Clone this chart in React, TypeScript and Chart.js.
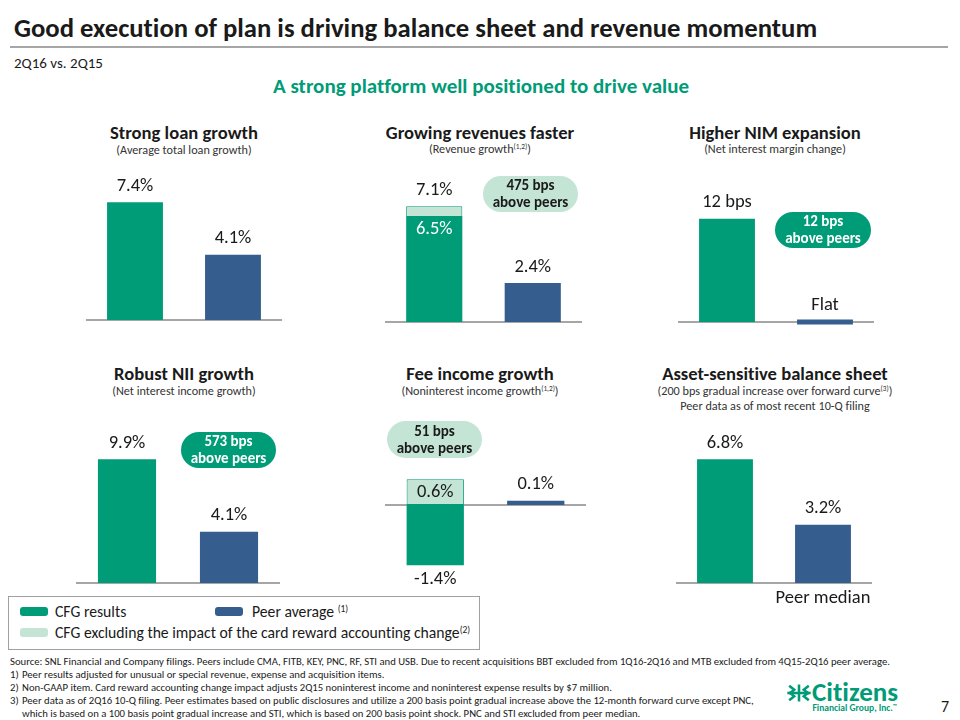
import React, { useEffect, useRef } from 'react';
import { Chart, registerables } from 'chart.js';

Chart.register(...registerables);

// ---------------- Data ----------------
const groupCategories = ['CFG', 'Peers'];

const loanGrowth = [7.4, 4.1];
const loanLabels = ['7.4%', '4.1%'];

const revenueGrowth = [6.5, 2.4];
const revenueGrowthExCard = [7.1, null];
const revenueLabels = ['6.5%', '2.4%'];
const revenueExCardLabels = ['7.1%', ''];

const nimChangeBps = [12, 0];
const nimLabels = ['12 bps', 'Flat'];

const niiGrowth = [9.9, 4.1];
const niiLabels = ['9.9%', '4.1%'];

const feeGrowth = [-1.4, 0.1];
const feeGrowthExCard = [0.6, null];
const feeLabels = ['-1.4%', '0.1%'];
const feeExCardLabels = ['0.6%', ''];

const rateSensitivity = [6.8, 3.2];
const rateLabels = ['6.8%', '3.2%'];
const rateCategoryLabels = ['', 'Peer median'];

// ---------------- Styles ----------------
const GREEN = '#009b77';
const BLUE = '#355d8e';
const LIGHT = '#c4e4d5';
const AXIS = '#a6a6a6';
const DARK = '#1a1a1a';
const FONT = 'Carlito, Lato, "Open Sans", sans-serif';
const VALUE_SIZE = 18.5;

const barLabelPlugin = {
  id: 'barLabels',
  afterDatasetsDraw(chart: any, _args: any, opts: any) {
    const ctx = chart.ctx;
    const items = (opts && opts.items) || [];
    ctx.save();
    ctx.textAlign = 'center';
    ctx.textBaseline = 'middle';
    for (const it of items) {
      if (!it.text) continue;
      const el = chart.getDatasetMeta(it.ds).data[it.i];
      if (!el) continue;
      const p = el.getProps(['x', 'y', 'base'], true);
      const top = Math.min(p.y, p.base);
      const bottom = Math.max(p.y, p.base);
      let ty = top - 16;
      if (it.pos === 'inside') ty = top + 13;
      else if (it.pos === 'center') ty = (top + bottom) / 2;
      else if (it.pos === 'below') ty = bottom + 14;
      else if (it.pos === 'underAxis') ty = chart.scales.y.getPixelForValue(0) + 15;
      else if (it.pos === 'aboveFlat') ty = chart.scales.y.getPixelForValue(0) - 17;
      ctx.font = `${it.size || VALUE_SIZE}px ${FONT}`;
      ctx.fillStyle = it.color || DARK;
      ctx.fillText(it.text, p.x, ty);
    }
    ctx.restore();
  },
};

const baselinePlugin = {
  id: 'baseline',
  beforeDatasetsDraw(chart: any) {
    const ctx = chart.ctx;
    const y = Math.round(chart.scales.y.getPixelForValue(0));
    ctx.save();
    ctx.strokeStyle = AXIS;
    ctx.lineWidth = 2;
    ctx.beginPath();
    ctx.moveTo(chart.chartArea.left, y);
    ctx.lineTo(chart.chartArea.right, y);
    ctx.stroke();
    ctx.restore();
  },
};

type Box = { left: number; top: number; width: number; height: number; zeroY: number; k: number };

function BarPanel({ box, datasets, labels }: { box: Box; datasets: any[]; labels: any[] }) {
  const ref = useRef<HTMLCanvasElement | null>(null);
  useEffect(() => {
    if (!ref.current) return;
    const max = (box.zeroY - box.top) / box.k;
    const min = -(box.top + box.height - box.zeroY) / box.k;
    const chart = new Chart(ref.current, {
      type: 'bar',
      data: { labels: groupCategories, datasets },
      options: {
        animation: false,
        responsive: false,
        maintainAspectRatio: false,
        layout: { padding: 0 },
        datasets: { bar: { barPercentage: 0.57, categoryPercentage: 1 } },
        plugins: {
          legend: { display: false },
          tooltip: { enabled: false },
          barLabels: { items: labels },
        } as any,
        scales: {
          x: { display: false, stacked: true },
          y: { display: false, stacked: true, min, max },
        },
      },
      plugins: [baselinePlugin, barLabelPlugin],
    });
    return () => chart.destroy();
  }, []);
  return (
    <canvas
      ref={ref}
      width={box.width}
      height={box.height}
      style={{ position: 'absolute', left: box.left, top: box.top, width: box.width, height: box.height }}
    />
  );
}

function Txt({ x, y, size, weight = 400, color = DARK, align = 'center', children, style }: any) {
  const tx = align === 'center' ? '-50%' : align === 'right' ? '-100%' : '0';
  return (
    <div
      style={{
        position: 'absolute',
        left: x,
        top: y,
        transform: `translate(${tx}, -50%)`,
        fontSize: size,
        fontWeight: weight,
        color,
        whiteSpace: 'nowrap',
        lineHeight: 1.1,
        fontFamily: FONT,
        fontVariantLigatures: 'none',
        ...style,
      }}
    >
      {children}
    </div>
  );
}

function Sup({ children }: any) {
  return <sup style={{ fontSize: '0.6em', verticalAlign: '0.55em', lineHeight: 0 }}>{children}</sup>;
}

function Pill({ x, y, w, h, dark, children }: any) {
  return (
    <div
      style={{
        position: 'absolute',
        left: x,
        top: y,
        width: w,
        height: h,
        borderRadius: h / 2,
        background: dark ? GREEN : LIGHT,
        color: dark ? '#fff' : DARK,
        display: 'flex',
        alignItems: 'center',
        justifyContent: 'center',
        textAlign: 'center',
        fontFamily: FONT,
        fontWeight: 700,
        fontSize: 15,
        lineHeight: '17px',
        whiteSpace: 'nowrap',
      }}
    >
      {children}
    </div>
  );
}

function Swatch({ x, y, color }: any) {
  return <div style={{ position: 'absolute', left: x, top: y, width: 28, height: 9, borderRadius: 3, background: color }} />;
}

function exCardSegment(reported: (number | null)[], exCard: (number | null)[]) {
  return exCard.map((v, i) => {
    if (v == null) return null;
    const r = reported[i] as number;
    return r > 0 ? +(v - r).toFixed(2) : v;
  });
}

export default function App() {
  const colA = 184, colB = 480, colC = 775;

  const loanSets = [{ data: loanGrowth, backgroundColor: [GREEN, BLUE] }];
  const loanLbl = [
    { ds: 0, i: 0, text: loanLabels[0], pos: 'above' },
    { ds: 0, i: 1, text: loanLabels[1], pos: 'above' },
  ];

  const revSets = [
    { data: revenueGrowth, backgroundColor: [GREEN, BLUE] },
    {
      data: exCardSegment(revenueGrowth, revenueGrowthExCard),
      backgroundColor: LIGHT,
      borderColor: GREEN,
      borderWidth: 1,
      borderSkipped: 'bottom',
    },
  ];
  const revLbl = [
    { ds: 1, i: 0, text: revenueExCardLabels[0], pos: 'above' },
    { ds: 0, i: 0, text: revenueLabels[0], pos: 'inside', color: '#ffffff' },
    { ds: 0, i: 1, text: revenueLabels[1], pos: 'above' },
  ];

  const nimSets = [{ data: nimChangeBps, backgroundColor: [GREEN, BLUE], minBarLength: 5 }];
  const nimLbl = [
    { ds: 0, i: 0, text: nimLabels[0], pos: 'above' },
    { ds: 0, i: 1, text: nimLabels[1], pos: 'aboveFlat' },
  ];

  const niiSets = [{ data: niiGrowth, backgroundColor: [GREEN, BLUE] }];
  const niiLbl = [
    { ds: 0, i: 0, text: niiLabels[0], pos: 'above' },
    { ds: 0, i: 1, text: niiLabels[1], pos: 'above' },
  ];

  const feeSets = [
    { data: feeGrowth, backgroundColor: [GREEN, BLUE], minBarLength: 4 },
    {
      data: exCardSegment(feeGrowth, feeGrowthExCard),
      backgroundColor: LIGHT,
      borderColor: GREEN,
      borderWidth: 1,
      borderSkipped: false,
    },
  ];
  const feeLbl = [
    { ds: 1, i: 0, text: feeExCardLabels[0], pos: 'center' },
    { ds: 0, i: 0, text: feeLabels[0], pos: 'below' },
    { ds: 0, i: 1, text: feeLabels[1], pos: 'above' },
  ];

  const rateSets = [{ data: rateSensitivity, backgroundColor: [GREEN, BLUE] }];
  const rateLbl = [
    { ds: 0, i: 0, text: rateLabels[0], pos: 'above' },
    { ds: 0, i: 1, text: rateLabels[1], pos: 'above' },
    { ds: 0, i: 1, text: rateCategoryLabels[1], pos: 'underAxis' },
  ];

  const titleSize = 18.6;
  const subSize = 12.2;
  const fn = 10.7;

  return (
    <div style={{ position: 'absolute', left: 0, top: 0, width: 960, height: 720, background: '#fff', overflow: 'hidden', fontFamily: FONT }}>
      <Txt x={14} y={29} size={26.7} weight={700} align="left">
        Good execution of plan is driving balance sheet and revenue momentum
      </Txt>
      <div style={{ position: 'absolute', left: 10, top: 46, width: 938, height: 2, background: AXIS }} />
      <Txt x={14} y={63} size={15} align="left">2Q16 vs. 2Q15</Txt>
      <Txt x={481} y={87} size={21} weight={700} color={GREEN}>
        A strong platform well positioned to drive value
      </Txt>

      {/* Titles row 1 */}
      <Txt x={colA} y={133} size={titleSize} weight={700}>Strong loan growth</Txt>
      <Txt x={colA} y={150} size={subSize} color="#333">(Average total loan growth)</Txt>
      <Txt x={colB} y={133} size={titleSize} weight={700}>Growing revenues faster</Txt>
      <Txt x={colB} y={149} size={subSize} color="#333">(Revenue growth<Sup>(1,2)</Sup>)</Txt>
      <Txt x={colC} y={133} size={titleSize} weight={700}>Higher NIM expansion</Txt>
      <Txt x={colC} y={149} size={subSize} color="#333">(Net interest margin change)</Txt>

      {/* Titles row 2 */}
      <Txt x={colA} y={374} size={titleSize} weight={700}>Robust NII growth</Txt>
      <Txt x={colA} y={391} size={subSize} color="#333">(Net interest income growth)</Txt>
      <Txt x={colB} y={374} size={titleSize} weight={700}>Fee income growth</Txt>
      <Txt x={colB} y={391} size={subSize} color="#333">(Noninterest income growth<Sup>(1,2)</Sup>)</Txt>
      <Txt x={colC} y={374} size={titleSize} weight={700}>Asset-sensitive balance sheet</Txt>
      <Txt x={colC} y={391} size={subSize} color="#333">(200 bps gradual increase over forward curve<Sup>(3)</Sup>)</Txt>
      <Txt x={colC} y={406} size={subSize} color="#333">Peer data as of most recent 10-Q filing</Txt>

      <BarPanel box={{ left: 86, top: 168, width: 196, height: 162, zeroY: 320, k: 15.9 }} datasets={loanSets} labels={loanLbl} />
      <BarPanel box={{ left: 385, top: 172, width: 197, height: 158, zeroY: 322, k: 16.3 }} datasets={revSets} labels={revLbl} />
      <BarPanel box={{ left: 678, top: 186, width: 196, height: 144, zeroY: 322, k: 8.6 }} datasets={nimSets} labels={nimLbl} />
      <BarPanel box={{ left: 76, top: 428, width: 204, height: 164, zeroY: 583, k: 12.5 }} datasets={niiSets} labels={niiLbl} />
      <BarPanel box={{ left: 385, top: 470, width: 201, height: 124, zeroY: 505, k: 43 }} datasets={feeSets} labels={feeLbl} />
      <BarPanel box={{ left: 676, top: 428, width: 196, height: 184, zeroY: 583, k: 18.2 }} datasets={rateSets} labels={rateLbl} />

      <Pill x={483} y={176} w={95} h={36}>475 bps<br />above peers</Pill>
      <Pill x={775} y={212} w={96} h={36} dark>12 bps<br />above peers</Pill>
      <Pill x={181} y={432} w={95} h={36} dark>573 bps<br />above peers</Pill>
      <Pill x={387} y={421} w={95} h={37}>51 bps<br />above peers</Pill>

      {/* Legend */}
      <div style={{ position: 'absolute', left: 8, top: 596, width: 470, height: 52, border: '1px solid #a0a0a0' }} />
      <Swatch x={20} y={607} color={GREEN} />
      <Txt x={55} y={612} size={15.7} align="left">CFG results</Txt>
      <Swatch x={215} y={607} color={BLUE} />
      <Txt x={252} y={612} size={15.7} align="left">Peer average <Sup>(1)</Sup></Txt>
      <Swatch x={20} y={628} color={LIGHT} />
      <Txt x={55} y={633} size={15.7} align="left">CFG excluding the impact of the card reward accounting change<Sup>(2)</Sup></Txt>

      {/* Footnotes */}
      <Txt x={10} y={662} size={fn} align="left">
        Source: SNL Financial and Company filings. Peers include CMA, FITB, KEY, PNC, RF, STI and USB. Due to recent acquisitions BBT excluded from 1Q16-2Q16 and MTB excluded from 4Q15-2Q16 peer average.
      </Txt>
      <Txt x={10} y={675} size={fn} align="left">1)</Txt>
      <Txt x={22} y={675} size={fn} align="left">Peer results adjusted for unusual or special revenue, expense and acquisition items.</Txt>
      <Txt x={10} y={688} size={fn} align="left">2)</Txt>
      <Txt x={22} y={688} size={fn} align="left">Non-GAAP item. Card reward accounting change impact adjusts 2Q15 noninterest income and noninterest expense results by $7 million.</Txt>
      <Txt x={10} y={701} size={fn} align="left">3)</Txt>
      <Txt x={22} y={701} size={fn} align="left">
        Peer data as of 2Q16 10-Q filing. Peer estimates based on public disclosures and utilize a 200 basis point gradual increase above the 12-month forward curve except PNC,
      </Txt>
      <Txt x={22} y={714} size={fn} align="left">
        which is based on a 100 basis point gradual increase and STI, which is based on 200 basis point shock. PNC and STI excluded from peer median.
      </Txt>

      {/* Logo */}
      <svg style={{ position: 'absolute', left: 787, top: 683 }} width={24} height={20} viewBox="0 0 30 22">
        <g stroke={GREEN} strokeWidth={3.2} fill="none" strokeLinecap="square">
          <line x1={2} y1={11} x2={28} y2={11} />
          <line x1={15} y1={2} x2={15} y2={20} />
          <polyline points="4,3 9,7 4,11" />
          <polyline points="26,3 21,7 26,11" />
          <polyline points="4,19 9,15 4,11" />
          <polyline points="26,19 21,15 26,11" />
        </g>
      </svg>
      <Txt x={812} y={692} size={27} weight={700} color={GREEN} align="left">Citizens</Txt>
      <Txt x={897} y={708} size={9.5} weight={700} color={GREEN} align="right">Financial Group, Inc.<Sup>™</Sup></Txt>
      <Txt x={949} y={707} size={16} align="right">7</Txt>
    </div>
  );
}
